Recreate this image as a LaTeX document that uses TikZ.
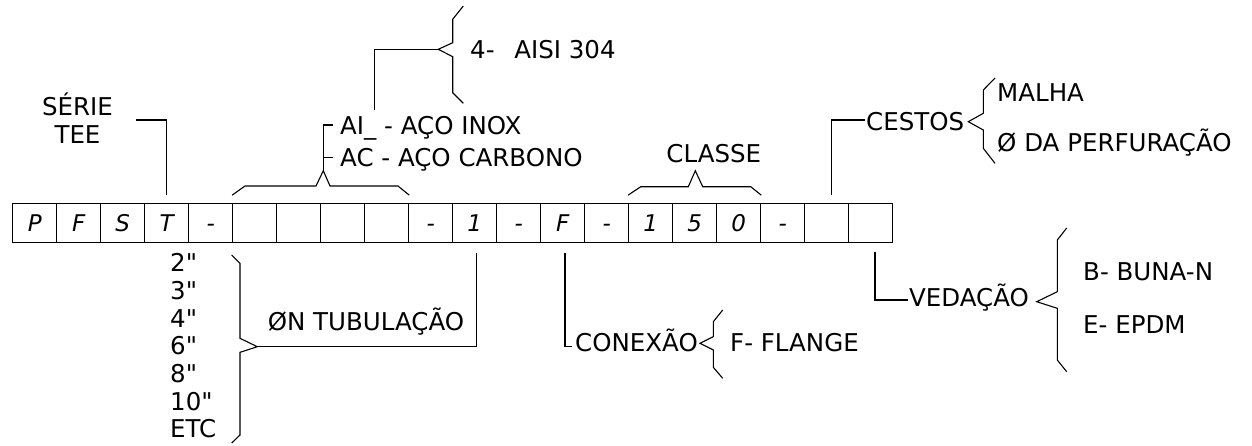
\documentclass[tikz,border=0pt]{standalone}
\usepackage{fontspec}
\setmainfont{DejaVu Sans}
\begin{document}
\begin{tikzpicture}[x=1pt,y=-1pt,
  line/.style={line width=1.1pt, line join=miter},
  cell/.style={draw, line width=1.1pt, minimum width=44pt, minimum height=39pt, inner sep=0pt,
    font=\fontsize{23pt}{26pt}\selectfont\itshape, text height=16.6pt, text depth=0pt},
  lbl/.style={inner sep=0pt, font=\fontsize{24.5pt}{28pt}\selectfont, anchor=base west},
  lblc/.style={lbl, anchor=base},
]
\useasboundingbox (0,0) rectangle (1252,445);

% code cells
\foreach \t [count=\i] in {P,F,S,T,-,{},{},{},{},-,1,-,F,-,1,5,0,-,{},{}} {
  \node[cell] (c\i) at ({12.7+44*(\i-0.5)},222.8) {\t};
}

% SERIE TEE
\node[lblc] (serie) at (77.5,115) {SÉRIE};
\node[lblc] (tee) at (77.5,143) {TEE};
\coordinate (s1) at (136,120);
\draw[line] (s1) -- (s1 -| c4) -- ([yshift=8pt]c4.north);

% material bracket
\coordinate (mpk) at (323.3,170.7);
\draw[line] ([yshift=7.6pt]c6.north west) -- (245,186) -- (316,186) -- (mpk) -- (330,186) -- (398,186) -- ([yshift=7.6pt]c9.north east);
\node[lbl] (ai) at (340,134.8) {AI\_ - AÇO INOX};
\node[lbl] (ac) at (340,166.5) {AC - AÇO CARBONO};
\coordinate (aitk) at (333.3,125);
\coordinate (actk) at (333.3,157.3);
\draw[line] (mpk) -- (mpk |- aitk) -- (aitk);
\draw[line] (mpk |- actk) -- (actk);

% AISI brace
\coordinate (aisitip) at (438.3,49.3);
\draw[line] (374.3,110) -- (374.3,49.3) -- (aisitip);
\draw[line] (463.3,6) -- (452.7,19.3) -- (452.7,42.7) -- (aisitip) -- (452.7,56.7) -- (452.7,92.7) -- (463.3,103.3);
\node[lbl] (aisi) at (470,58.3) {4-\ \ \,AISI 304};

% CLASSE
\node[lblc] (classe) at (713.8,162.3) {CLASSE};
\coordinate (cpk) at (695.3,170.7);
\draw[line] ([yshift=7.6pt]c15.north west) -- (640.7,186.7) -- (688.3,186.7) -- (cpk) -- (702.7,186.7) -- (750.7,186.7) -- ([yshift=7.6pt]c17.north east);

% CESTOS
\node[lbl] (cestos) at (866,130) {CESTOS};
\coordinate (cst) at (831.7,195);
\draw[line] (cst) -- (831.7,120) -- (865,120);
\coordinate (cestip) at (968.3,121.7);
\draw[line] (995,78) -- (983.3,90) -- (983.3,113.3) -- (cestip) -- (983.3,130) -- (983.3,148.3) -- (995,163.3);
\node[lbl] (malha) at (997,101) {MALHA};
\node[lbl] (perf) at (997,151.7) {Ø DA PERFURAÇÃO};

% sizes
\foreach \s [count=\k from 0] in {2\textquotedbl,3\textquotedbl,4\textquotedbl,6\textquotedbl,8\textquotedbl,10\textquotedbl,ETC} {
  \node[lbl] (sz\k) at (170,{271.7+27.67*\k}) {\s};
}
\coordinate (sztip) at (257.3,346.7);
\draw[line] (231.7,255) -- (240,263.3) -- (240,338.3) -- (sztip) -- (240,352.3) -- (240,435) -- (231.7,443);
\draw[line] (sztip) -- (476.7,346.7) -- (476.7,253.3);
\node[lblc] (tub) at (366,330.7) {ØN TUBULAÇÃO};

% CONEXAO
\node[lbl] (con) at (575,351.7) {CONEXÃO};
\draw[line] (565,253.3) -- (565,346.7) -- (571.7,346.7);
\coordinate (contip) at (700,343.3);
\draw[line] (722.7,310) -- (713.3,321.7) -- (713.3,336.7) -- (contip) -- (713.3,350) -- (713.3,367.3) -- (722.7,378.3);
\node[lbl] (flange) at (730,351.7) {F- FLANGE};

% VEDACAO
\node[lbl] (ved) at (909,306.7) {VEDAÇÃO};
\draw[line] (875,251.7) -- (875,300) -- (908.3,300);
\coordinate (vedtip) at (1036.7,301.7);
\draw[line] (1066.7,228) -- (1057.3,240) -- (1057.3,291.7) -- (vedtip) -- (1057.3,308.3) -- (1057.3,360) -- (1066.7,371.7);
\node[lbl] (buna) at (1083,280) {B- BUNA-N};
\node[lbl] (epdm) at (1083,333.3) {E- EPDM};
\end{tikzpicture}
\end{document}
